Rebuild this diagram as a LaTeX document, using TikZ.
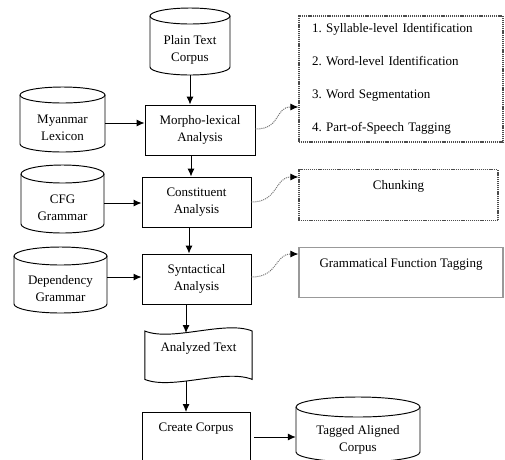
\documentclass[tikz,border=0pt]{standalone}
\usepackage{fontspec}
\setmainfont{Liberation Serif}
\usetikzlibrary{arrows.meta}
\newcommand{\mycyl}[7]{%
  \pgfmathsetmacro{\cylcx}{(#2+#4)/2}%
  \pgfmathsetmacro{\cylcy}{(#3+2*#6+#5)/2}%
  \pgfmathsetmacro{\cylrx}{(#4-#2)/2}%
  \pgfmathsetmacro{\cylw}{#4-#2}%
  \pgfmathsetmacro{\cylh}{#5-#3-2*#6}%
  \node[txt, inner sep=0pt, minimum width=\cylw pt, minimum height=\cylh pt] (#1) at (\cylcx,\cylcy) {#7};%
  \draw[shapeline] (#2,#3+#6) arc[start angle=180, end angle=-180, x radius=\cylrx, y radius=#6];%
  \draw[shapeline] (#2,#3+#6) -- (#2,#5-#6) arc[start angle=180, end angle=0, x radius=\cylrx, y radius=#6] -- (#4,#3+#6);%
}
\begin{document}
\frenchspacing
\begin{tikzpicture}[x=1pt,y=-1pt,
  shapeline/.style={line width=0.95pt, draw=black},
  txt/.style={font=\fontsize{13}{17}\selectfont, align=center},
  box/.style={shapeline, txt, inner sep=0pt, rectangle},
  dotbox/.style={rectangle, draw=black!70, line width=1.2pt, dash pattern=on 1.1pt off 0.8pt, txt},
  graybox/.style={rectangle, draw=black!40, line width=1.1pt, txt},
  arr/.style={line width=0.95pt, -{Latex[length=8pt,width=7pt]}},
  curly/.style={draw=black!55, line width=1pt, dash pattern=on 1pt off 1pt, -{Latex[length=8pt,width=7pt,color=black]}}]
\useasboundingbox (0,0) rectangle (505,459);

% cylinders
\mycyl{plain}{150}{8}{230}{75}{8}{Plain Text\\Corpus}
\mycyl{myan}{20}{87}{105}{152}{8}{Myanmar\\Lexicon}
\mycyl{cfg}{21}{165}{104}{233}{9}{CFG\\Grammar}
\mycyl{dep}{14}{247}{107}{313}{9}{Dependency\\Grammar}
\mycyl{tagged}{296}{397}{420}{462}{10}{Tagged Aligned\\Corpus}

% process boxes
\node[box, minimum width=110pt, minimum height=50pt] (morph) at (200,130) {Morpho-lexical\\Analysis};
\node[box, minimum width=109pt, minimum height=50pt] (const) at (196.5,202) {Constituent\\Analysis};
\node[box, minimum width=109pt, minimum height=50pt] (synt) at (196.5,279) {Syntactical\\Analysis};
\node[box, minimum width=108pt, text height=19pt, text depth=39pt, anchor=north] (create) at (196,412) {Create Corpus};

% analyzed text (tape)
\node[txt, inner sep=0pt, minimum width=107pt, text height=20pt, text depth=28pt, anchor=north] (tape) at (198.5,331) {Analyzed Text};
\draw[shapeline] (tape.north west) .. controls +(27,11) and +(-27,-11) .. (tape.north east)
  -- (tape.south east) .. controls +(-27,-11) and +(27,11) .. (tape.south west) -- cycle;
\coordinate (tapein) at (186,333);
\coordinate (tapeout) at (186,381);

% right-side boxes
\node[dotbox, font=\fontsize{13}{33}\selectfont, align=left, text width=178pt, inner xsep=13pt, inner ysep=0pt, minimum height=126pt] (steps) at (401,79)
  {1. Syllable-level Identification\\2. Word-level Identification\\3. Word Segmentation\\4. Part-of-Speech Tagging};
\node[dotbox, minimum width=199pt, inner ysep=0pt, text height=20pt, text depth=31pt, anchor=north] (chunk) at (398.5,169) {Chunking};
\node[graybox, minimum width=204pt, inner ysep=0pt, text height=20pt, text depth=30pt, anchor=north] (gft) at (401,247) {Grammatical Function Tagging};

% vertical flow
\draw[arr] (plain.south) -- (plain.south |- morph.north);
\draw[arr] ([xshift=-9pt]morph.south) -- ([xshift=-9pt]morph.south |- const.north);
\draw[arr] ([xshift=-7.5pt]const.south) -- ([xshift=-7.5pt]const.south |- synt.north);
\draw[arr] ([xshift=-10.5pt]synt.south) -- (tapein);
\draw[arr] (tapeout) -- (tapeout |- create.north);

% horizontal inputs
\draw[arr] (myan.east |- 0,123) -- (morph.west |- 0,123);
\draw[arr] (cfg.east |- 0,203) -- (const.west |- 0,203);
\draw[arr] (dep.east |- 0,277) -- (synt.west |- 0,277);
\draw[arr] ([xshift=4pt]create.east |- 0,437) -- (tagged.west |- 0,437);

% curly dotted links
\draw[curly] (morph.east |- 0,129) .. controls +(26,0) and +(-24,0) .. (steps.west |- 0,107);
\draw[curly] (const.east |- 0,202) .. controls +(27,0) and +(-24,0) .. (chunk.west |- 0,177);
\draw[curly] (synt.east |- 0,277) .. controls +(27,0) and +(-24,0) .. (gft.west |- 0,254);
\end{tikzpicture}
\end{document}
